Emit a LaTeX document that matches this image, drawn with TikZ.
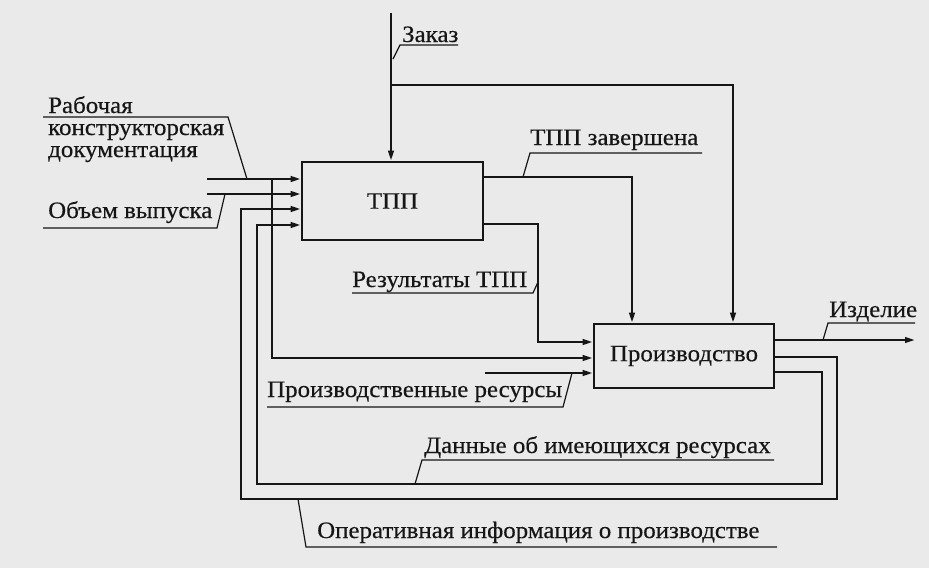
\documentclass[tikz,border=0pt]{standalone}
\usepackage{fontspec}
\setmainfont{Liberation Serif}[FakeStretch=1.06,FakeBold=0.4]
\usetikzlibrary{arrows.meta}
\definecolor{ink}{RGB}{22,22,22}
\definecolor{bg}{RGB}{234,234,234}
\begin{document}
\begin{tikzpicture}[x=1pt,y=-1pt,
 flow/.style={line width=2.3pt, draw=ink},
 arr/.style={flow,-{Triangle[length=10pt,width=5.5pt]}},
 lead/.style={line width=1.2pt, draw=ink},
 box/.style={draw=ink, line width=2.6pt, inner sep=0pt, font=\fontsize{23.5}{26}\selectfont, text=ink},
 lbl/.style={anchor=base west, inner sep=0pt, font=\fontsize{23.5}{26}\selectfont, text=ink}]
\useasboundingbox (0,0) rectangle (929,568);
\fill[bg] (0,0) rectangle (929,568);

% boxes
\node[box, minimum width=181pt, minimum height=78pt] (tpp) at (392.5,201) {ТПП};
\node[box, minimum width=180pt, minimum height=64pt] (pr) at (684,356) {Производство};

% connector points
\coordinate (z0) at (391,13);
\coordinate (z1) at (391,85);
\coordinate (z2) at (733,85);
\coordinate (r0) at (207,179);
\coordinate (r1) at (272,179);
\coordinate (r2) at (272,358);
\coordinate (v0) at (207,194);
\coordinate (t1) at (632,177);
\coordinate (q1) at (538,224);
\coordinate (q2) at (538,342);
\coordinate (p0) at (485,373);
\coordinate (i1) at (915,340);
\coordinate (o1) at (837,357);
\coordinate (o2) at (837,499);
\coordinate (o3) at (241,499);
\coordinate (o4) at (241,209);
\coordinate (d1) at (822,372);
\coordinate (d2) at (822,484);
\coordinate (d3) at (257,484);
\coordinate (d4) at (257,225);

% connectors
\draw[arr] (z0) -- (z0 |- tpp.north);
\draw[arr] (z1) -- (z2) -- (z2 |- pr.north);
\draw[arr] (r0) -- (r0 -| tpp.west);
\draw[arr] (r1) -- (r2) -- (r2 -| pr.west);
\draw[arr] (v0) -- (v0 -| tpp.west);
\draw[arr] (t1 -| tpp.east) -- (t1) -- (t1 |- pr.north);
\draw[arr] (q1 -| tpp.east) -- (q1) -- (q2) -- (q2 -| pr.west);
\draw[arr] (p0) -- (p0 -| pr.west);
\draw[arr] (i1 -| pr.east) -- (i1);
\draw[arr] (o1 -| pr.east) -- (o1) -- (o2) -- (o3) -- (o4) -- (o4 -| tpp.west);
\draw[arr] (d1 -| pr.east) -- (d1) -- (d2) -- (d3) -- (d4) -- (d4 -| tpp.west);

% labels
\node[lbl] (lz) at (402,42) {Заказ};
\draw[lead] (458,45) -- (400,45) -- (393,59);

\node[lbl] (lr1) at (48,113) {Рабочая};
\node[lbl] (lr2) at (48,135) {конструкторская};
\node[lbl] (lr3) at (48,157) {документация};
\draw[lead] (43,117) -- (228,117) -- (247,179);

\node[lbl] (lv) at (48,218) {Объем выпуска};
\draw[lead] (43,228) -- (217,228) -- (225,194);

\node[lbl] (lt) at (530,145) {ТПП завершена};
\draw[lead] (702,153) -- (530,153) -- (523,177);

\node[lbl] (lq) at (352,287) {Результаты ТПП};
\draw[lead] (352,293) -- (533,293) -- (538,282);

\node[lbl] (lp) at (267,397) {Производственные ресурсы};
\draw[lead] (267,407) -- (563,407) -- (572,373);

\node[lbl] (li) at (829,317) {Изделие};
\draw[lead] (915,323) -- (828,323) -- (823,340);

\node[lbl] (ld) at (424,453) {Данные об имеющихся ресурсах};
\draw[lead] (774,460) -- (422,460) -- (415,484);

\node[lbl] (lo) at (317,538) {Оперативная информация о производстве};
\draw[lead] (777,547) -- (306,547) -- (298,499);
\end{tikzpicture}
\end{document}
